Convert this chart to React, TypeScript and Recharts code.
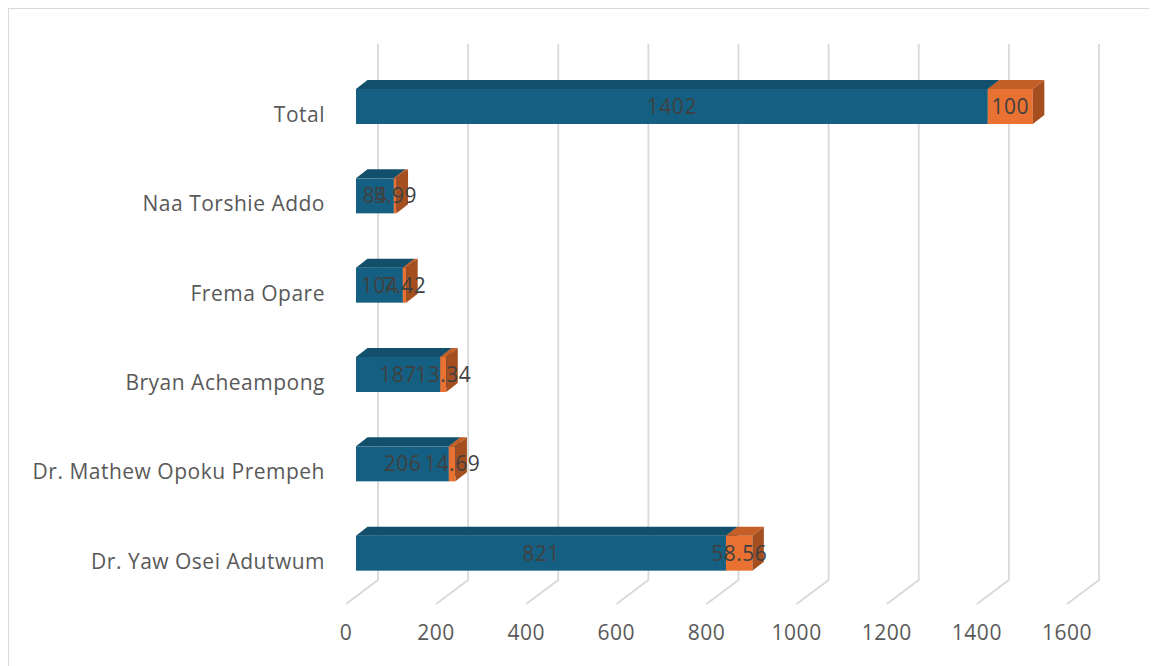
import React from "react";
import { BarChart, Bar, XAxis, YAxis, CartesianGrid, LabelList } from "recharts";

// Candidates, top to bottom
const categories = [
  "Total",
  "Naa Torshie Addo",
  "Frema Opare",
  "Bryan Acheampong",
  "Dr. Mathew Opoku Prempeh",
  "Dr. Yaw Osei Adutwum",
];
// Vote counts
const counts = [1402, 84, 104, 187, 206, 821];
// Share of the total, in percent
const percents = [100, 5.99, 7.42, 13.34, 14.69, 58.56];
// Value axis ticks
const xTicks = [0, 200, 400, 600, 800, 1000, 1200, 1400, 1600];

const data = categories.map((name, i) => ({ name, count: counts[i], pct: percents[i] }));

const FONT = "'Open Sans', 'Liberation Sans', sans-serif";
const FONT_SIZE = 21;
const SPACING = 0.5;
const GRID = "#d9d9d9";
const DEPTH_X = 11.5;
const DEPTH_Y = 9;

// Back wall + floor geometry (chart coordinates)
const WALL_TOP = 35;
const FLOOR_BACK = 571;
const FLOOR_FRONT = 595;
const BACK_SHIFT = 22;
const FRONT_SHIFT = -10;

function makeBox(front: string, top: string, side: string) {
  return (props: any) => {
    const { x, y, width, height } = props;
    if (width == null || height == null) return <g />;
    const w = Math.max(0, width);
    return (
      <g>
        <rect x={x} y={y} width={w} height={height} fill={front} />
        <polygon
          points={`${x},${y} ${x + DEPTH_X},${y - DEPTH_Y} ${x + w + DEPTH_X},${y - DEPTH_Y} ${x + w},${y}`}
          fill={top}
        />
        <polygon
          points={`${x + w},${y} ${x + w + DEPTH_X},${y - DEPTH_Y} ${x + w + DEPTH_X},${y + height - DEPTH_Y} ${x + w},${y + height}`}
          fill={side}
        />
      </g>
    );
  };
}

const blueBox = makeBox("#156082", "#124f6b", "#0f455e");
const orangeBox = makeBox("#e97132", "#c55f28", "#a54f20");

function wallLine(props: any) {
  const { x1, index } = props;
  const bx = x1 + BACK_SHIFT;
  const fx = x1 + FRONT_SHIFT;
  return (
    <polyline
      key={`wall-${index}`}
      points={`${bx},${WALL_TOP} ${bx},${FLOOR_BACK} ${fx},${FLOOR_FRONT}`}
      fill="none"
      stroke={GRID}
      strokeWidth={1.8}
    />
  );
}

function ValueTick(props: any) {
  const { x, payload } = props;
  return (
    <text
      x={x + FRONT_SHIFT}
      y={624}
      dy="0.35em"
      textAnchor="middle"
      fill="#595959"
      fontSize={FONT_SIZE}
      letterSpacing={SPACING}
      fontFamily={FONT}
    >
      {payload.value}
    </text>
  );
}

function NameTick(props: any) {
  const { y, payload } = props;
  return (
    <text
      x={316}
      y={y + 8}
      dy="0.35em"
      textAnchor="end"
      fill="#595959"
      fontSize={FONT_SIZE}
      letterSpacing={SPACING}
      fontFamily={FONT}
    >
      {payload.value}
    </text>
  );
}

export default function App() {
  return (
    <div
      style={{
        width: 1160,
        height: 670,
        border: "1px solid #d9d9d9",
        background: "#fff",
      }}
    >
      <style>{"body{overflow:hidden}"}</style>
      <BarChart
        width={1150}
        height={660}
        data={data}
        layout="vertical"
        margin={{ top: 53, right: 82, bottom: 31, left: 0 }}
        style={{ fontFamily: FONT }}
      >
        <CartesianGrid horizontal={false} vertical={wallLine} />
        <XAxis
          type="number"
          domain={[0, 1600]}
          ticks={xTicks}
          axisLine={false}
          tickLine={false}
          height={40}
          tick={<ValueTick />}
        />
        <YAxis
          type="category"
          dataKey="name"
          width={347}
          axisLine={false}
          tickLine={false}
          tick={<NameTick />}
        />
        <Bar dataKey="count" stackId="s" barSize={35} shape={blueBox} isAnimationActive={false}>
          <LabelList
            dataKey="count"
            position="center"
            fill="#404040"
            fontSize={FONT_SIZE}
            letterSpacing={SPACING}
            fontFamily={FONT}
          />
        </Bar>
        <Bar dataKey="pct" stackId="s" barSize={35} shape={orangeBox} isAnimationActive={false}>
          <LabelList
            dataKey="pct"
            position="center"
            fill="#404040"
            fontSize={FONT_SIZE}
            letterSpacing={SPACING}
            fontFamily={FONT}
          />
        </Bar>
      </BarChart>
    </div>
  );
}
